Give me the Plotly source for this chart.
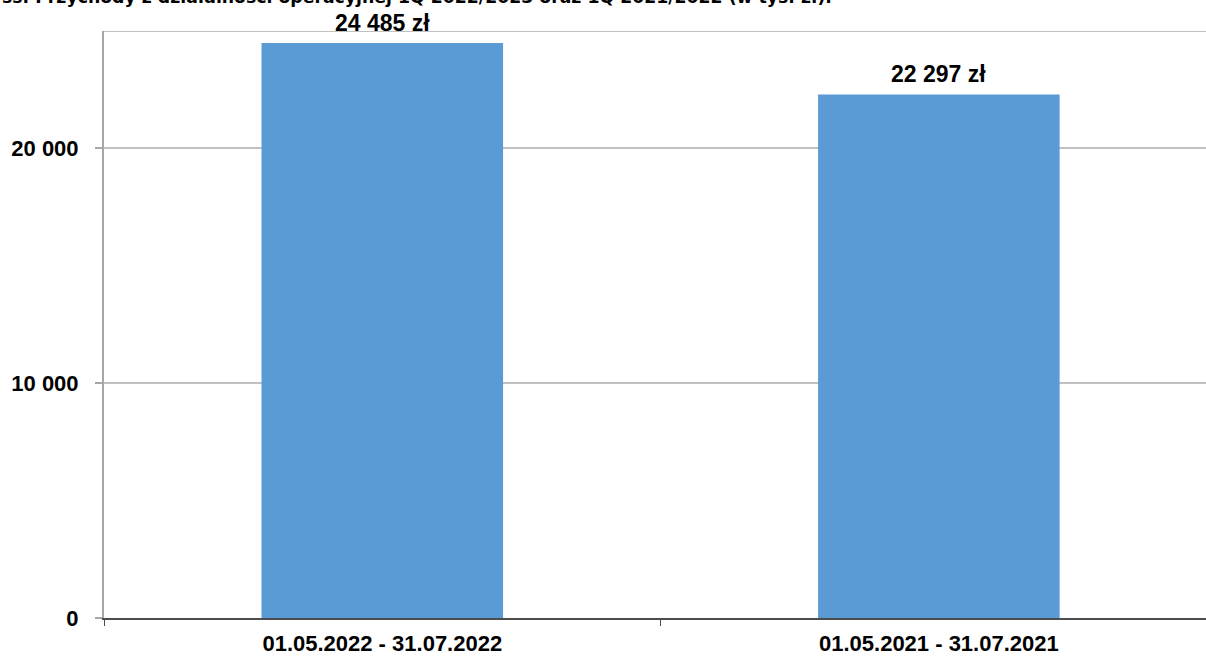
import plotly.graph_objects as go

# Revenue from operating activities, thousand PLN
periods = ["01.05.2022 - 31.07.2022", "01.05.2021 - 31.07.2021"]
revenue = [24485, 22297]
y_tick_values = [0, 10000, 20000]
y_tick_labels = ["0", "10 000", "20 000"]
title_text = "ss. Przychody z działalności operacyjnej 1Q 2022/2023 oraz 1Q 2021/2022 (w tys. zł)."


def fmt_pln(v):
    return f"{v:,}".replace(",", " ") + " zł"


BAR_COLOR = "#5b9bd5"
GRID_COLOR = "#c0c0c0"
FONT = "Liberation Sans, Arial, sans-serif"

positions = list(range(len(periods)))
# category boundaries get the small tick marks
boundaries = [p - 0.5 for p in positions]

fig = go.Figure()
fig.add_trace(go.Bar(
    x=positions,
    y=revenue,
    marker=dict(color=BAR_COLOR, line=dict(width=0)),
    width=0.434,
    hoverinfo="skip",
))

# value labels above bars
for p, v in zip(positions, revenue):
    fig.add_annotation(
        x=p, y=v, xref="x", yref="y",
        text="<b>" + fmt_pln(v) + "</b>", showarrow=False,
        yanchor="bottom", yshift=5,
        font=dict(family=FONT, size=23, color="#000000"),
    )

# chart title (runs off the top edge of the page)
fig.add_annotation(
    x=-0.0944, y=1.058, xref="paper", yref="paper",
    xanchor="left", yanchor="middle",
    text="<b>" + title_text + "</b>", showarrow=False,
    font=dict(family="DejaVu Sans, Verdana, sans-serif", size=17.3, color="#000000"),
)

# plot area top border
fig.add_shape(
    type="line", xref="paper", yref="y", x0=0, x1=1, y0=25000, y1=25000,
    line=dict(color=GRID_COLOR, width=2), layer="below",
)

fig.update_layout(
    width=1206, height=657,
    margin=dict(l=104, r=0, t=31, b=39),
    paper_bgcolor="white", plot_bgcolor="white",
    showlegend=False,
    font=dict(family=FONT, size=22, color="#000000"),
)

fig.update_xaxes(
    range=[-0.5, 1.48],
    tickvals=positions, ticktext=periods,
    showgrid=False,
    showline=True, linecolor="#4d4d4d", linewidth=2,
    ticks="",
    minor=dict(tickvals=boundaries, ticks="outside", ticklen=6,
               tickcolor="#4d4d4d", tickwidth=1, showgrid=False),
    tickfont=dict(family=FONT, size=22, color="#000000", weight="bold"),
    ticklabelstandoff=5,
    automargin=False,
    zeroline=False,
)

fig.update_yaxes(
    range=[0, 25000],
    tickvals=y_tick_values, ticktext=y_tick_labels,
    showgrid=True, gridcolor=GRID_COLOR, gridwidth=2,
    showline=True, linecolor="#a6a6a6", linewidth=2,
    ticks="outside", ticklen=7, tickcolor="#a6a6a6", tickwidth=2,
    tickfont=dict(family=FONT, size=22, color="#000000", weight="bold"),
    ticklabelstandoff=12,
    automargin=False,
    zeroline=False,
)

fig.write_html("out.html")
